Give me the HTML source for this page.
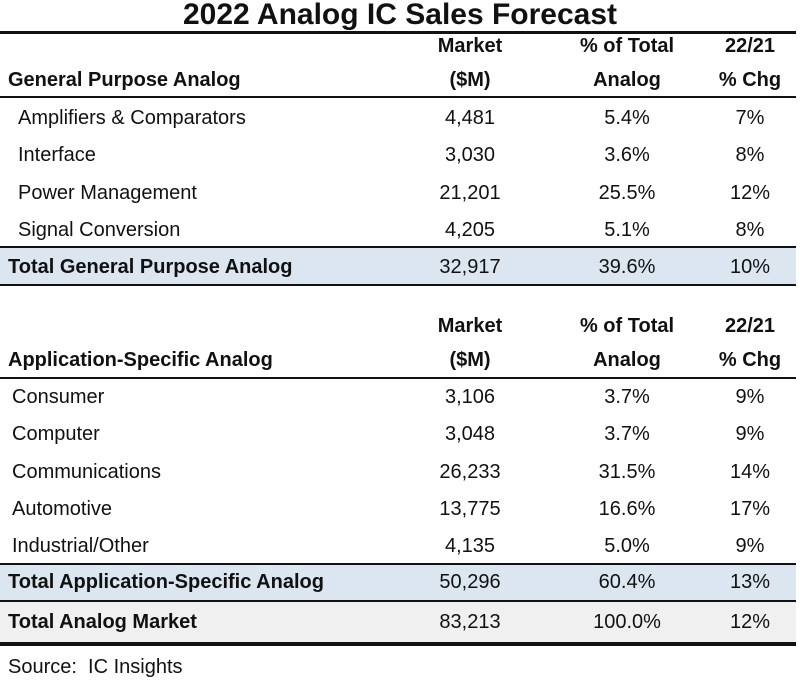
<!DOCTYPE html>
<html><head><meta charset="utf-8"><style>
body{margin:0;width:800px;height:681px;background:#fff;overflow:hidden;font-family:"Liberation Sans",Arial,sans-serif;color:#111}
.t{position:absolute;white-space:nowrap;font-size:20px;line-height:24px;transform:translateY(-50%)}
.b{font-weight:bold}
.c{text-align:center;width:160px;margin-left:-80px}
.ln{position:absolute;left:0;width:796px;background:#111}
.bg{position:absolute;left:0;width:796px}
</style></head><body>
<div class="bg" style="top:248px;height:37px;background:#dce6f1"></div>
<div class="bg" style="top:565px;height:36px;background:#dce6f1"></div>
<div class="bg" style="top:602px;height:40px;background:#f0f0f0"></div>
<div class="t b" style="left:0;width:800px;text-align:center;top:15px;font-size:30px;line-height:34px">2022 Analog IC Sales Forecast</div>
<div class="ln" style="top:31px;height:3px"></div>
<div class="ln" style="top:96px;height:2px"></div>
<div class="ln" style="top:246px;height:2px"></div>
<div class="ln" style="top:284px;height:2px"></div>
<div class="ln" style="top:377px;height:2px"></div>
<div class="ln" style="top:563px;height:2px"></div>
<div class="ln" style="top:600px;height:2px"></div>
<div class="ln" style="top:642px;height:4px"></div>
<div id="rows"></div>
<div class="t" style="left:8px;top:667px">Source:&nbsp; IC Insights</div>
<script>
const labels=["Amplifiers & Comparators","Interface","Power Management","Signal Conversion","Total General Purpose Analog","Consumer","Computer","Communications","Automotive","Industrial/Other","Total Application-Specific Analog","Total Analog Market"];
const market=["4,481","3,030","21,201","4,205","32,917","3,106","3,048","26,233","13,775","4,135","50,296","83,213"];
const share=["5.4%","3.6%","25.5%","5.1%","39.6%","3.7%","3.7%","31.5%","16.6%","5.0%","60.4%","100.0%"];
const chg=["7%","8%","12%","8%","10%","9%","9%","14%","17%","9%","13%","12%"];
const ys=[118,155,193,230,267,397,434,472,509,546,582,622];
const bold=[4,10,11];
const lx=[18,18,18,18,8,12,12,12,12,12,8,8];
const root=document.body;
function add(txt,cls,style,name){const d=document.createElement('div');d.className=cls;d.setAttribute('style',style);d.textContent=txt;


root.appendChild(d);}
[[80,'General Purpose Analog'],[360,'Application-Specific Analog']].forEach(([y,h])=>{
 add(h,'t b','left:8px;top:'+y+'px','section-header');
 add('Market','t b c','left:470px;top:'+(y-34)+'px','col-header');
 add('($M)','t b c','left:470px;top:'+y+'px','col-header');
 add('% of Total','t b c','left:627px;top:'+(y-34)+'px','col-header');
 add('Analog','t b c','left:627px;top:'+y+'px','col-header');
 add('22/21','t b c','left:750px;top:'+(y-34)+'px','col-header');
 add('% Chg','t b c','left:750px;top:'+y+'px','col-header');
});
labels.forEach((l,i)=>{
 const b=bold.includes(i)?' b':'';
 add(l,'t'+b,'left:'+lx[i]+'px;top:'+ys[i]+'px','row-label');
 add(market[i],'t c','left:470px;top:'+ys[i]+'px','market-value');
 add(share[i],'t c','left:627px;top:'+ys[i]+'px','share-value');
 add(chg[i],'t c','left:750px;top:'+ys[i]+'px','change-value');
});
</script>
</body></html>
